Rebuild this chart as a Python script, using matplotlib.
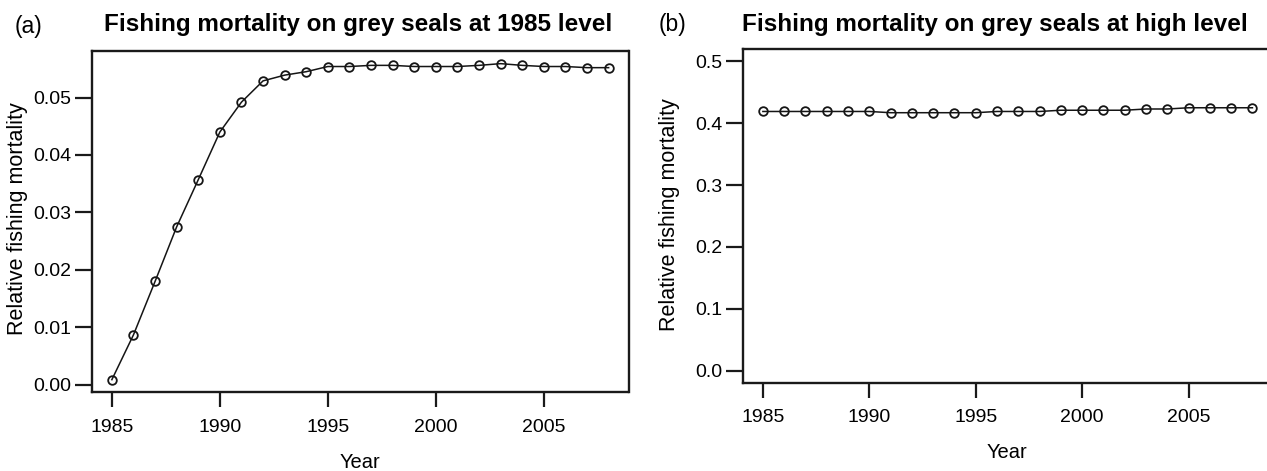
import matplotlib
matplotlib.use("Agg")
import matplotlib.pyplot as plt
import numpy as np

years = list(range(1985, 2009))
mort_1985 = [0.0009, 0.0087, 0.0180, 0.0275, 0.0357, 0.0440, 0.0492, 0.0529,
             0.0539, 0.0545, 0.0554, 0.0554, 0.0556, 0.0556, 0.0554, 0.0554,
             0.0554, 0.0556, 0.0559, 0.0556, 0.0554, 0.0554, 0.0552, 0.0552]
mort_high = [0.419, 0.419, 0.419, 0.419, 0.419, 0.419, 0.417, 0.417,
             0.417, 0.417, 0.417, 0.419, 0.419, 0.419, 0.421, 0.421,
             0.421, 0.421, 0.423, 0.423, 0.425, 0.425, 0.425, 0.425]
xticks = [1985, 1990, 1995, 2000, 2005]
yticks_a = [0.00, 0.01, 0.02, 0.03, 0.04, 0.05]
yticks_b = [0.0, 0.1, 0.2, 0.3, 0.4, 0.5]
title_a = "Fishing mortality on grey seals at 1985 level"
title_b = "Fishing mortality on grey seals at high level"
ylabel = "Relative fishing mortality"
xlabel = "Year"

plt.rcParams['font.family'] = ['Liberation Sans', 'DejaVu Sans']

W, H = 1267, 471
fig = plt.figure(figsize=(W / 100, H / 100), dpi=100)


def px_axes(left, top, right, bottom):
    return fig.add_axes([left / W, 1 - bottom / H, (right - left) / W, (bottom - top) / H])


def rlim(lo, hi):
    d = (hi - lo) * 0.04
    return lo - d, hi + d


def style(ax, vals, yticks, fmt, ylim):
    ax.plot(years, vals, color='#151515', lw=1.1, marker='o', ms=6.2,
            mfc='none', mec='#151515', mew=1.3)
    ax.set_xlim(*rlim(min(years), max(years)))
    ax.set_ylim(*ylim)
    ax.set_xticks(xticks)
    ax.set_yticks(yticks)
    ax.set_yticklabels([fmt.format(v) for v in yticks])
    ax.tick_params(axis='x', length=11, width=1.6, pad=8, labelsize=14, color='#1a1a1a')
    ax.tick_params(axis='y', length=12, width=1.6, pad=3, labelsize=14, color='#1a1a1a')
    for s in ax.spines.values():
        s.set_linewidth(1.7)
        s.set_color('#1a1a1a')


ax1 = px_axes(92, 51, 628.5, 392.3)
style(ax1, mort_1985, yticks_a, "{:.2f}", rlim(min(mort_1985), max(mort_1985)))

ax2 = px_axes(743.3, 49, 1272, 383)
style(ax2, mort_high, yticks_b, "{:.1f}", rlim(0.0, 0.5))


def ftext(x, y, s, **kw):
    fig.text(x / W, 1 - y / H, s, ha='center', va='center', **kw)


ftext(358, 25, title_a, fontsize=17.5, fontweight='bold')
ftext(995, 24, title_b, fontsize=17.5, fontweight='bold')
ftext(28, 26, "(a)", fontsize=16.5)
ftext(672, 25, "(b)", fontsize=16.5)
ftext(360, 462, xlabel, fontsize=14.5)
ftext(1007, 452, xlabel, fontsize=14.5)
ftext(18, 219, ylabel, fontsize=15.5, rotation=90)
ftext(670, 215, ylabel, fontsize=15.5, rotation=90)

fig.savefig("out.png", dpi=100)
